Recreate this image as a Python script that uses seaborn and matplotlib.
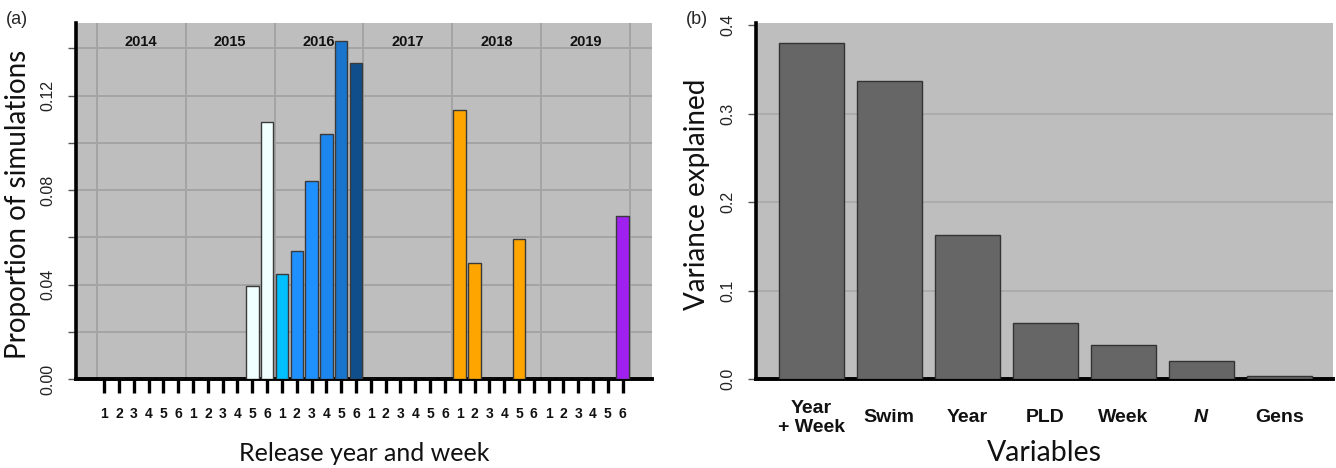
import matplotlib
matplotlib.use("Agg")
import matplotlib.pyplot as plt
import seaborn as sns
import pandas as pd
import numpy as np

# ---------------- data ----------------
years = ["2014", "2015", "2016", "2017", "2018", "2019"]
weeks = ["1", "2", "3", "4", "5", "6"]
prop_2014 = [0, 0, 0, 0, 0, 0]
prop_2015 = [0, 0, 0, 0, 0.0394, 0.1086]
prop_2016 = [0.0445, 0.0543, 0.0840, 0.1037, 0.1433, 0.1336]
prop_2017 = [0, 0, 0, 0, 0, 0]
prop_2018 = [0.1137, 0.0493, 0, 0, 0.0594, 0]
prop_2019 = [0, 0, 0, 0, 0, 0.0691]

variables = ["Year\n+ Week", "Swim", "Year", "PLD", "Week", "N", "Gens"]
variance = [0.380, 0.337, 0.163, 0.063, 0.0385, 0.0204, 0.003]

# ---------------- styles ----------------
bar_colors = (["#bebebe"] * 6 +
              ["#f0ffff"] * 6 +
              ["#00bfff", "#1e90ff", "#1e90ff", "#1c86ee", "#1874cd", "#104e8b"] +
              ["#bebebe"] * 6 +
              ["#ffa500"] * 6 +
              ["#a020f0"] * 6)
BG = "#bebebe"
GRID = "#a4a4a4"
NARROW = ["Liberation Sans Narrow", "Liberation Sans", "DejaVu Sans"]
LABEL = ["Lato", "DejaVu Sans"]

sns.set_theme(style="white")
plt.rcParams["font.family"] = ["Liberation Sans", "DejaVu Sans"]

all_props = prop_2014 + prop_2015 + prop_2016 + prop_2017 + prop_2018 + prop_2019
keys = [f"{y}-{w}" for y in years for w in weeks]
df_a = pd.DataFrame({"key": keys, "prop": all_props})
df_b = pd.DataFrame({"var": variables, "val": variance})

fig = plt.figure(figsize=(13.36, 4.68), dpi=100)
W, H = 1336, 468

def axes_px(l, t, r, b):
    return fig.add_axes([l / W, (H - b) / H, (r - l) / W, (b - t) / H])

# ---------------- panel (a) ----------------
ax = axes_px(76, 23.3, 652, 379)
ax.set_facecolor(BG)
sns.barplot(data=df_a, x="key", y="prop", hue="key", palette=bar_colors,
            legend=False, width=0.84, edgecolor="#3a3a3a", linewidth=1.0,
            saturation=1, ax=ax, zorder=3)
ax.set_xlim(-1.9, 36.98)
ax.set_ylim(0, 0.1506)
for k in range(7):
    ax.axvline(6 * k - 0.5, color=GRID, lw=1.4, zorder=1)
for yv in np.arange(0.02, 0.15, 0.02):
    ax.axhline(yv, color=GRID, lw=1.4, zorder=1)
ax.set_yticks(np.arange(0, 0.15, 0.02))
ax.set_yticklabels(["0.00", "", "0.04", "", "0.08", "", "0.12", ""],
                   rotation=90, va="center", fontsize=11.5, color="#222222")
ax.tick_params(axis="y", length=6, width=1, color="#555555", pad=9, left=True)
ax.set_xticks(range(36))
ax.set_xticklabels(weeks * 6, fontsize=10, fontweight="bold", color="#111111",
                   family=NARROW)
ax.tick_params(axis="x", length=10, width=2.4, color="black", pad=10, bottom=True)
for s in ["top", "right"]:
    ax.spines[s].set_visible(False)
ax.spines["left"].set_linewidth(2.6)
ax.spines["left"].set_color("black")
ax.spines["bottom"].set_linewidth(2.8)
ax.spines["bottom"].set_color("black")
ax.set_xlabel("Release year and week", fontsize=18, family=LABEL,
              labelpad=15, color="#111111")
ax.set_ylabel("Proportion of simulations", fontsize=20, family=LABEL,
              color="#111111")
ax.yaxis.set_label_coords(-0.078, 0.49)
for i, yr in enumerate(years):
    ax.text(6 * i + 2.5, 0.947, yr, transform=ax.get_xaxis_transform(),
            ha="center", va="center", fontsize=10.5, fontweight="bold",
            color="#111111", zorder=5, family=NARROW)
fig.text(17 / W, 1 - 20 / H, "(a)", fontsize=13, ha="center", va="center")

# ---------------- panel (b) ----------------
bx = axes_px(756, 23.3, 1333, 379)
bx.set_facecolor(BG)
sns.barplot(data=df_b, x="var", y="val", color="#666666", width=0.833,
            edgecolor="#333333", linewidth=1.0, saturation=1, ax=bx, zorder=3)
bx.set_xlim(-0.708, 6.69)
bx.set_ylim(0, 0.402)
for yv in [0.1, 0.2, 0.3]:
    bx.axhline(yv, color="#a8a8a8", lw=1.2, zorder=1)
bx.set_yticks([0, 0.1, 0.2, 0.3, 0.4])
bx.set_yticklabels(["0.0", "0.1", "0.2", "0.3", "0.4"], rotation=90,
                   va="center", fontsize=11.5, color="#222222")
bx.tick_params(axis="y", length=6, width=1, color="#555555", pad=9, left=True)
bx.set_xticks(range(7))
bx.set_xticklabels(variables, fontsize=14, fontweight="bold", color="#111111",
                   va="center", linespacing=1.2, family=NARROW)
bx.get_xticklabels()[5].set_fontstyle("italic")
bx.tick_params(axis="x", length=0, pad=28)
for s in ["top", "right"]:
    bx.spines[s].set_visible(False)
bx.spines["left"].set_linewidth(2.6)
bx.spines["left"].set_color("black")
bx.spines["bottom"].set_linewidth(2.8)
bx.spines["bottom"].set_color("black")
bx.set_xlabel("Variables", fontsize=20.5, family=LABEL,
              labelpad=3, color="#111111")
bx.set_ylabel("Variance explained", fontsize=20, family=LABEL,
              color="#111111")
bx.yaxis.set_label_coords(-0.080, 0.52)
fig.text(697 / W, 1 - 20 / H, "(b)", fontsize=13, ha="center", va="center")

fig.savefig("out.png", dpi=100)
